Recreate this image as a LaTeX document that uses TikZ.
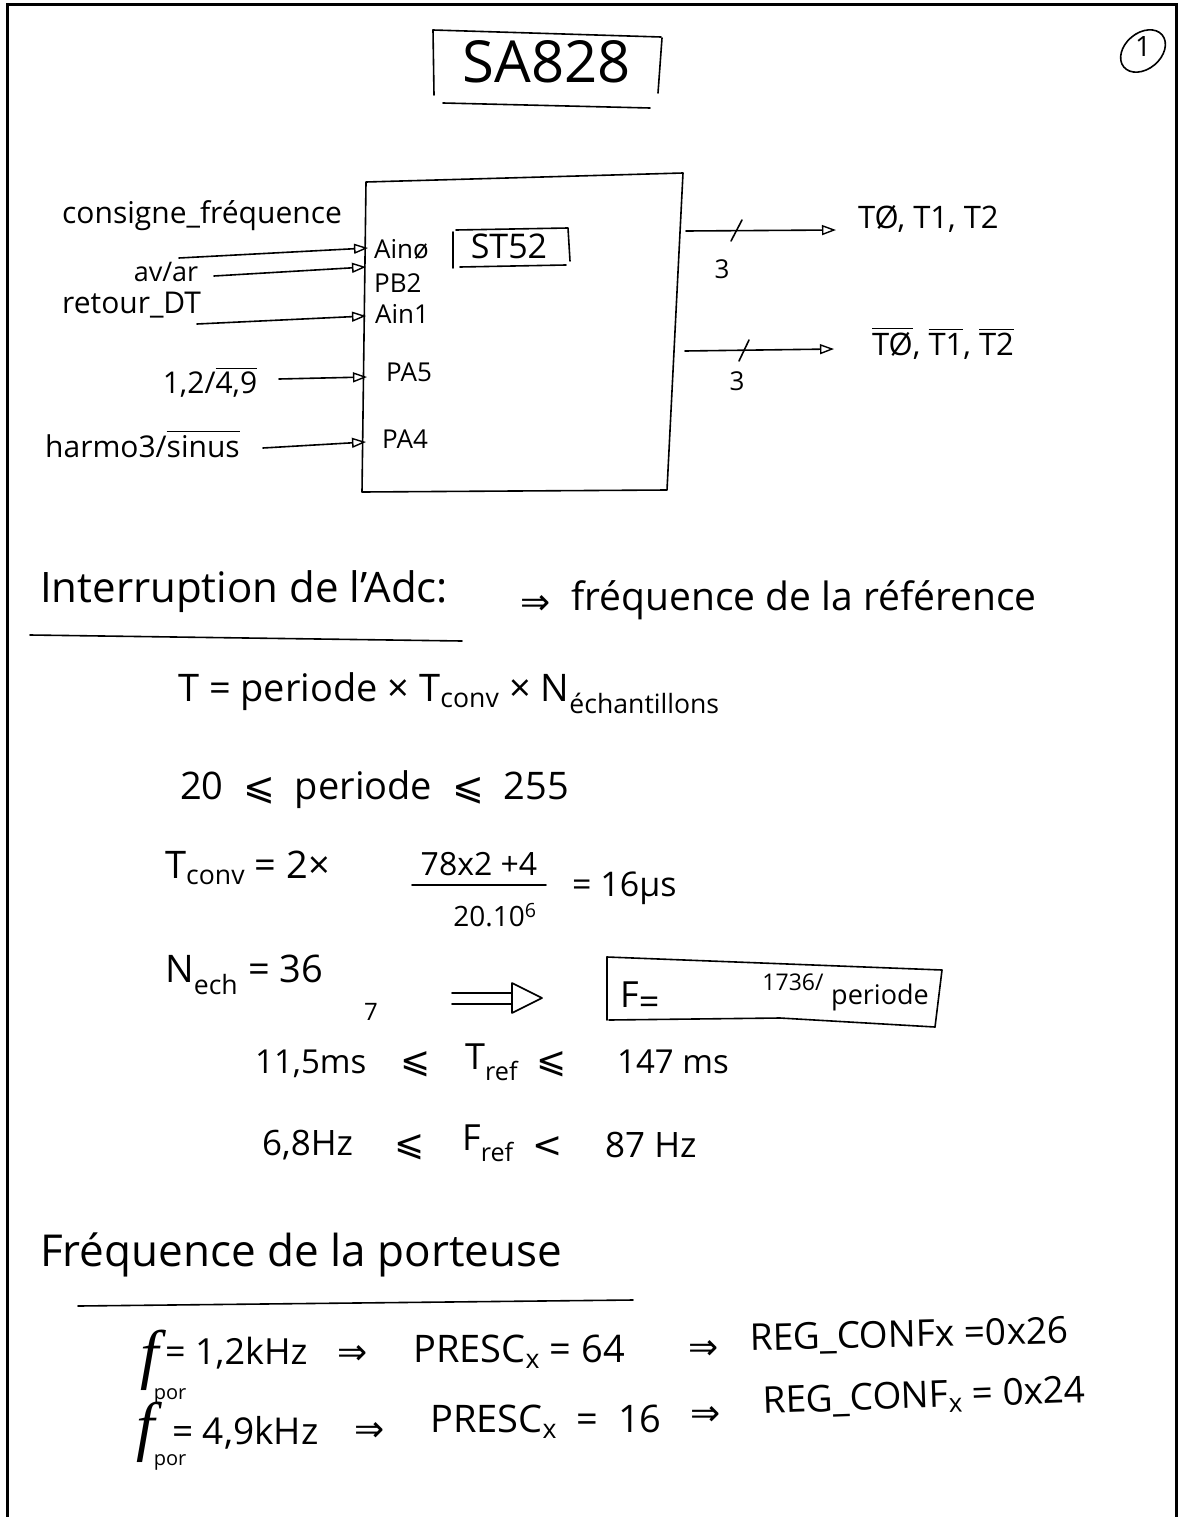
\documentclass[tikz,border=0pt]{standalone}
\usepackage{fontspec}
\setmainfont{Open Sans}
\newfontfamily\sym{DejaVu Sans}
\newfontfamily\serf{Liberation Serif}
\usepackage{amsmath}
\usetikzlibrary{arrows.meta}
\newcommand\fs[1]{\fontsize{#1}{#1}\selectfont}
\newcommand\leqs{{\sym ⩽}}
\newcommand\impl{{\sym ⇒}}
\newcommand\ovl[1]{$\overline{\text{#1}}$}
\begin{document}
\begin{tikzpicture}[x=1pt,y=-1pt,
  hand/.style={line width=1.6pt,line cap=round,line join=round},
  sig/.style={hand,-{Triangle[open,length=14pt,width=10pt,line width=1.4pt]}},
  lbl/.style={inner sep=0pt,font=\fs{30}},
  portlbl/.style={inner sep=0pt,anchor=west,font=\fs{26}},
  eq/.style={inner sep=0pt,anchor=west,font=\fs{38}},
  sy/.style={inner sep=0pt,font=\fs{36}\sym},
  bigf/.style={inner sep=0pt,font=\fs{66}\serf\itshape},
]
\useasboundingbox (0,0) rectangle (1178,1517);
\fill[white] (0,0) rectangle (1178,1517);
\draw[line width=3pt] (7,1517) -- (7,5) -- (1176,5) -- (1176,1517);

% title
\node[inner sep=0pt,font=\fs{58}] (title) at (547,62) {SA828};
\draw[hand] (433,30) -- (434,95);
\draw[hand] (433,30) -- (661,37);
\draw[hand] (662,38) -- (658,93);
\draw[hand] (443,103) -- (650,108);

% page number
\node[inner sep=0pt,font=\fs{28}] (page) at (1143,47) {1};
\draw[hand,rotate around={40:(1143,51)}] (1143,51) ellipse [x radius=25, y radius=18];

% MCU box
\draw[hand] (366,182) -- (683,173) -- (667,490) -- (362,492) -- cycle;
\node[inner sep=0pt,font=\fs{34}] (st52) at (509,246) {ST52};
\draw[hand] (453,232) -- (453,268);
\draw[hand] (456,230) -- (568,228) -- (570,261);
\draw[hand] (460,267) -- (566,265);

% inputs
\node[lbl,anchor=west] (consigne) at (62,216) {consigne\_fréquence};
\coordinate (c0) at (179,258);
\coordinate (p0) at (368,248);
\draw[sig] (c0) -- (p0);
\node[portlbl] (ain0) at (374,249) {Ainø};

\node[lbl,font=\fs{27}] (avar) at (166,272) {av/ar};
\coordinate (c1) at (214,276);
\coordinate (p1) at (366,267);
\draw[sig] (c1) -- (p1);
\node[portlbl] (pb2) at (374,283) {PB2};

\node[lbl,anchor=west] (retour) at (62,305) {retour\_DT};
\coordinate (c2) at (197,324);
\coordinate (p2) at (366,316);
\draw[sig] (c2) -- (p2);
\node[portlbl] (ain1) at (375,314) {Ain1};

\node[lbl] (sel) at (210,382) {1,2/\ovl{4,9}};
\coordinate (c3) at (279,379);
\coordinate (p3) at (367,377);
\draw[sig] (c3) -- (p3);
\node[portlbl] (pa5) at (386,372) {PA5};

\node[lbl,anchor=west] (harmo) at (45,444) {harmo3/\ovl{sinus}};
\coordinate (c4) at (263,448);
\coordinate (p4) at (366,442);
\draw[sig] (c4) -- (p4);
\node[portlbl] (pa4) at (382,439) {PA4};

% outputs
\coordinate (q1) at (686,231);
\coordinate (r1) at (836,230);
\draw[sig] (q1) -- (r1);
\draw[hand] (731,241) -- (742,220);
\node[lbl,font=\fs{26}] (n1) at (722,269) {3};
\node[lbl,anchor=west,font=\fs{31}] (tout) at (858,219) {TØ, T1, T2};

\coordinate (q2) at (685,351);
\coordinate (r2) at (834,349);
\draw[sig] (q2) -- (r2);
\draw[hand] (739,361) -- (749,340);
\node[lbl,font=\fs{26}] (n2) at (737,381) {3};
\node[lbl,anchor=west,font=\fs{31}] (toutn) at (872,343) {\ovl{TØ}, \ovl{T1}, \ovl{T2}};

% ADC interrupt
\node[eq,font=\fs{42}] (intr) at (40,592) {Interruption de l'Adc:};
\draw[hand] (30,635) -- (462,641);
\node[sy] (imp) at (536,605) {⇒};
\node[eq,font=\fs{39}] (ref) at (571,600) {fréquence de la référence};
\node[eq] (teq) at (178,693) {T = periode × T\textsubscript{conv} × N\textsubscript{échantillons}};
\node[eq] (range) at (180,790) {20 \ \leqs\ \ periode \ \leqs\ \ 255};

\node[eq] (tconv) at (165,868) {T\textsubscript{conv} = 2×};
\node[lbl,font=\fs{32}] (num) at (479,864) {78x2 +4};
\draw[hand] (412,885) -- (546,885);
\node[lbl,font=\fs{28}] (den) at (495,915) {20.10\textsuperscript{6}};
\node[eq,font=\fs{34}] (res) at (572,888) {= 16µs};

\node[eq] (nech) at (165,975) {N\textsubscript{ech} = 36};
\node[lbl,font=\fs{24}] (mark) at (371,1012) {7};
\draw[hand] (452,993) -- (512,993) (452,1004) -- (512,1004);
\draw[hand] (512,983) -- (542,998) -- (512,1013) -- cycle;

\draw[hand] (607,957) -- (607,1020);
\draw[hand] (607,957) -- (942,970) -- (935,1027);
\draw[hand] (609,1020) -- (780,1018) -- (935,1027);
\node[lbl,font=\fs{36},anchor=west] (feq) at (620,998) {F\raisebox{-0.35ex}{=}};
\node[lbl,font=\fs{23}] (fval) at (793,982) {1736/};
\node[lbl,font=\fs{27}] (fper) at (880,997) {periode};

\node[eq,font=\fs{33}] (tref1) at (255,1064) {11,5ms};
\node[sy] (tref2) at (416,1064) {⩽};
\node[eq,font=\fs{36}] (tref3) at (465,1062) {T\textsubscript{ref}};
\node[sy] (tref4) at (552,1064) {⩽};
\node[eq,font=\fs{33}] (tref5) at (617,1062) {147 ms};

\node[eq,font=\fs{35}] (fref1) at (262,1145) {6,8Hz};
\node[sy] (fref2) at (410,1147) {⩽};
\node[eq,font=\fs{36}] (fref3) at (462,1143) {F\textsubscript{ref}};
\node[sy] (fref4) at (548,1147) {<};
\node[eq,font=\fs{35}] (fref5) at (605,1145) {87 Hz};

% carrier
\node[eq,font=\fs{44}] (porteuse) at (40,1255) {Fréquence de la porteuse};
\draw[hand] (78,1306) -- (633,1300);

\node[bigf] (f1) at (150,1360) {f};
\node[inner sep=0pt,font=\fs{20}] (por1) at (170,1396) {por};
\node[eq,font=\fs{36}] (a1) at (165,1353) {= 1,2kHz};
\node[sy] (i1) at (353,1355) {⇒};
\node[eq] (b1) at (413,1352) {PRESC\textsubscript{x} = 64};
\node[sy] (j1) at (704,1350) {⇒};
\node[eq,font=\fs{37},rotate=1.3] (c1r) at (750,1340) {REG\_CONFx =0x26};

\node[bigf] (f2) at (146,1432) {f};
\node[inner sep=0pt,font=\fs{20}] (por2) at (170,1462) {por};
\node[eq,font=\fs{37}] (a2) at (172,1433) {= 4,9kHz};
\node[sy] (i2) at (370,1432) {⇒};
\node[eq] (b2) at (430,1422) {PRESC\textsubscript{x} \ = \ 16};
\node[sy] (j2) at (706,1416) {⇒};
\node[eq,font=\fs{37},rotate=2] (c2r) at (763,1403) {REG\_CONF\textsubscript{x} = 0x24};
\end{tikzpicture}
\end{document}
